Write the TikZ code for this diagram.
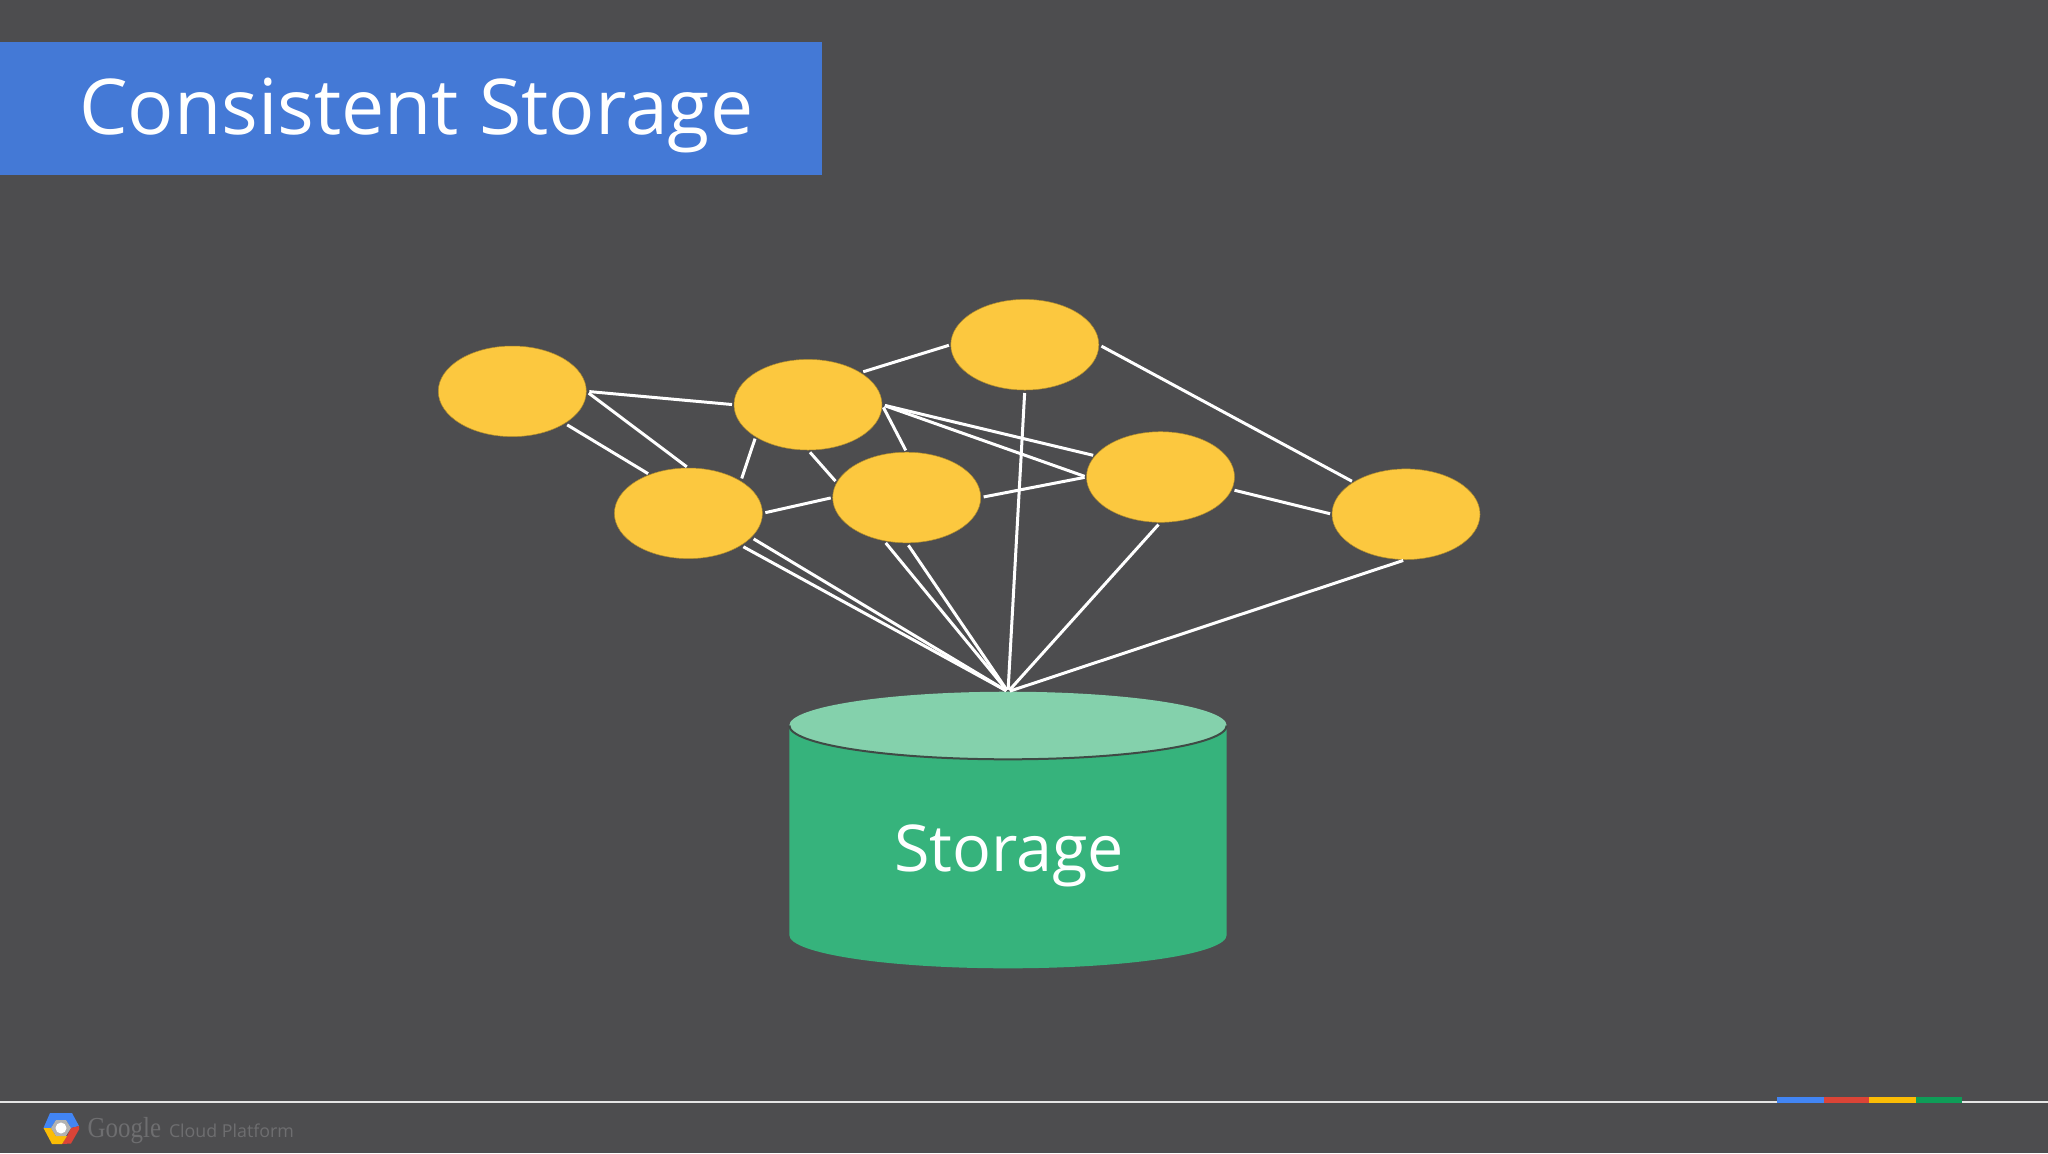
\documentclass[tikz,border=0pt]{standalone}
\usepackage{fontspec}
\setmainfont{Open Sans}
\newfontfamily\googlefont{Liberation Serif}
\usetikzlibrary{shapes.geometric}
\definecolor{bgc}{HTML}{4D4D4F}
\definecolor{barc}{HTML}{4479D6}
\definecolor{peer}{HTML}{FCC83F}
\definecolor{cylbody}{HTML}{36B37C}
\definecolor{cyltopc}{HTML}{84D1AC}
\definecolor{cylrim}{HTML}{3F4A45}
\definecolor{gblue}{HTML}{4285F4}
\definecolor{gred}{HTML}{DB4437}
\definecolor{gyellow}{HTML}{FBBC05}
\definecolor{ggreen}{HTML}{0F9D58}
\definecolor{footgrey}{HTML}{6E6E70}
\tikzset{
  peernode/.style={shape=ellipse,fill=peer,draw=peer!70!black,line width=0.25pt,inner sep=0pt,outer sep=0pt,minimum width=74pt,minimum height=45.3pt},
  link/.style={draw=white,line width=1.5pt,shorten >=1pt,shorten <=1.5pt},
  label/.style={inner sep=0pt,outer sep=0pt,anchor=base west,text=white}
}
\begin{document}
\begin{tikzpicture}[x=0.5pt,y=-0.5pt]
\useasboundingbox (0,0) rectangle (2048,1153);
\fill[bgc] (0,0) rectangle (2048,1153);
% title
\fill[barc] (0,42) rectangle (821.5,175);
\node[label,font=\fontsize{38.5}{46}\selectfont] (title) at (79,134.5) {Consistent Storage};
% nodes
\node[peernode] (e1) at (512.3,391.3) {};
\node[peernode] (e2) at (808,404.7) {};
\node[peernode] (e3) at (1024.8,344.7) {};
\node[peernode] (e4) at (688.4,513.3) {};
\node[peernode] (e5) at (906.7,497.5) {};
\node[peernode] (e6) at (1160.5,477) {};
\node[peernode] (e7) at (1406,514.2) {};
% cylinder
\fill[cylbody] (789.3,725.5) -- (789.3,935)
  .. controls (789.3,953.4) and (886.5,968.3) .. (1008,968.3)
  .. controls (1129.5,968.3) and (1226.7,953.4) .. (1226.7,935)
  -- (1226.7,725.5) -- cycle;
\node[shape=ellipse,fill=cyltopc,inner sep=0pt,outer sep=0pt,minimum width=218.7pt,minimum height=33.8pt] (cyltop) at (1008,725.5) {};
\draw[cylrim,line width=1pt] (789.3,725.5)
  .. controls (789.3,744.2) and (886.5,759.3) .. (1008,759.3)
  .. controls (1129.5,759.3) and (1226.7,744.2) .. (1226.7,725.5);
\node[label,font=\fontsize{32.3}{40}\selectfont] (storage) at (894,871) {Storage};
% connectors
\draw[link] (e1.east) -- (e2.west);
\draw[link] (e1.east) -- (e4.north);
\draw[link] (e1.south east) -- (e4.135);
\draw[link] (e4.north east) -- (e2.south west);
\draw[link] (e2.north east) -- (e3.west);
\draw[link] (e2.south) -- (e5.168);
\draw[link] (e2.east) -- (e5.north);
\draw[link] (e2.east) -- (e6.162);
\draw[link] (e2.east) -- (e6.west);
\draw[link] (e4.east) -- (e5.west);
\draw[link] (e5.east) -- (e6.west);
\draw[link] (e3.east) -- (e7.north west);
\draw[link] (e6.-10) -- (e7.west);
\draw[link] (e3.south) -- (cyltop.north);
\draw[link] (e4.south east) -- (cyltop.north);
\draw[link] (e4.-21) -- (cyltop.north);
\draw[link] (e5.-118) -- (cyltop.north);
\draw[link] (e5.south) -- (cyltop.north);
\draw[link] (e6.south) -- (cyltop.north);
\draw[link] (e7.south) -- (cyltop.north);
% footer
\draw[white!90!black,line width=1pt] (0,1102) -- (2048,1102);
\fill[gblue] (1777,1097) rectangle (1824,1103);
\fill[gred] (1824,1097) rectangle (1869,1103);
\fill[gyellow] (1869,1097) rectangle (1916,1103);
\fill[ggreen] (1916,1097) rectangle (1962,1103);
% logo
\fill[gblue] (50,1113) -- (72,1113) -- (79,1126) -- (71,1128) -- (66,1120) -- (56,1120) -- (51,1128) -- (43.5,1128) -- cycle;
\fill[gred] (79,1126) -- (79.3,1129) -- (71,1143.5) -- (62,1144) -- (67,1136) -- (71,1128) -- cycle;
\fill[gyellow] (43.5,1128) -- (51,1128) -- (56,1136) -- (67,1136) -- (62,1144) -- (52,1144) -- cycle;
\fill[gray!60!white] (56,1120) -- (66,1120) -- (71,1128) -- (66,1136) -- (56,1136) -- (51,1128) -- cycle;
\fill[white] (61,1128) circle [radius=5.5];
\node[label,text=footgrey,font=\googlefont\fontsize{14.5}{16}\selectfont,xscale=0.86,transform shape] (google) at (87.7,1137) {Google};
\node[label,text=footgrey,font=\fontsize{8.9}{12}\selectfont] (cloud) at (169,1137) {Cloud Platform};
\end{tikzpicture}
\end{document}
